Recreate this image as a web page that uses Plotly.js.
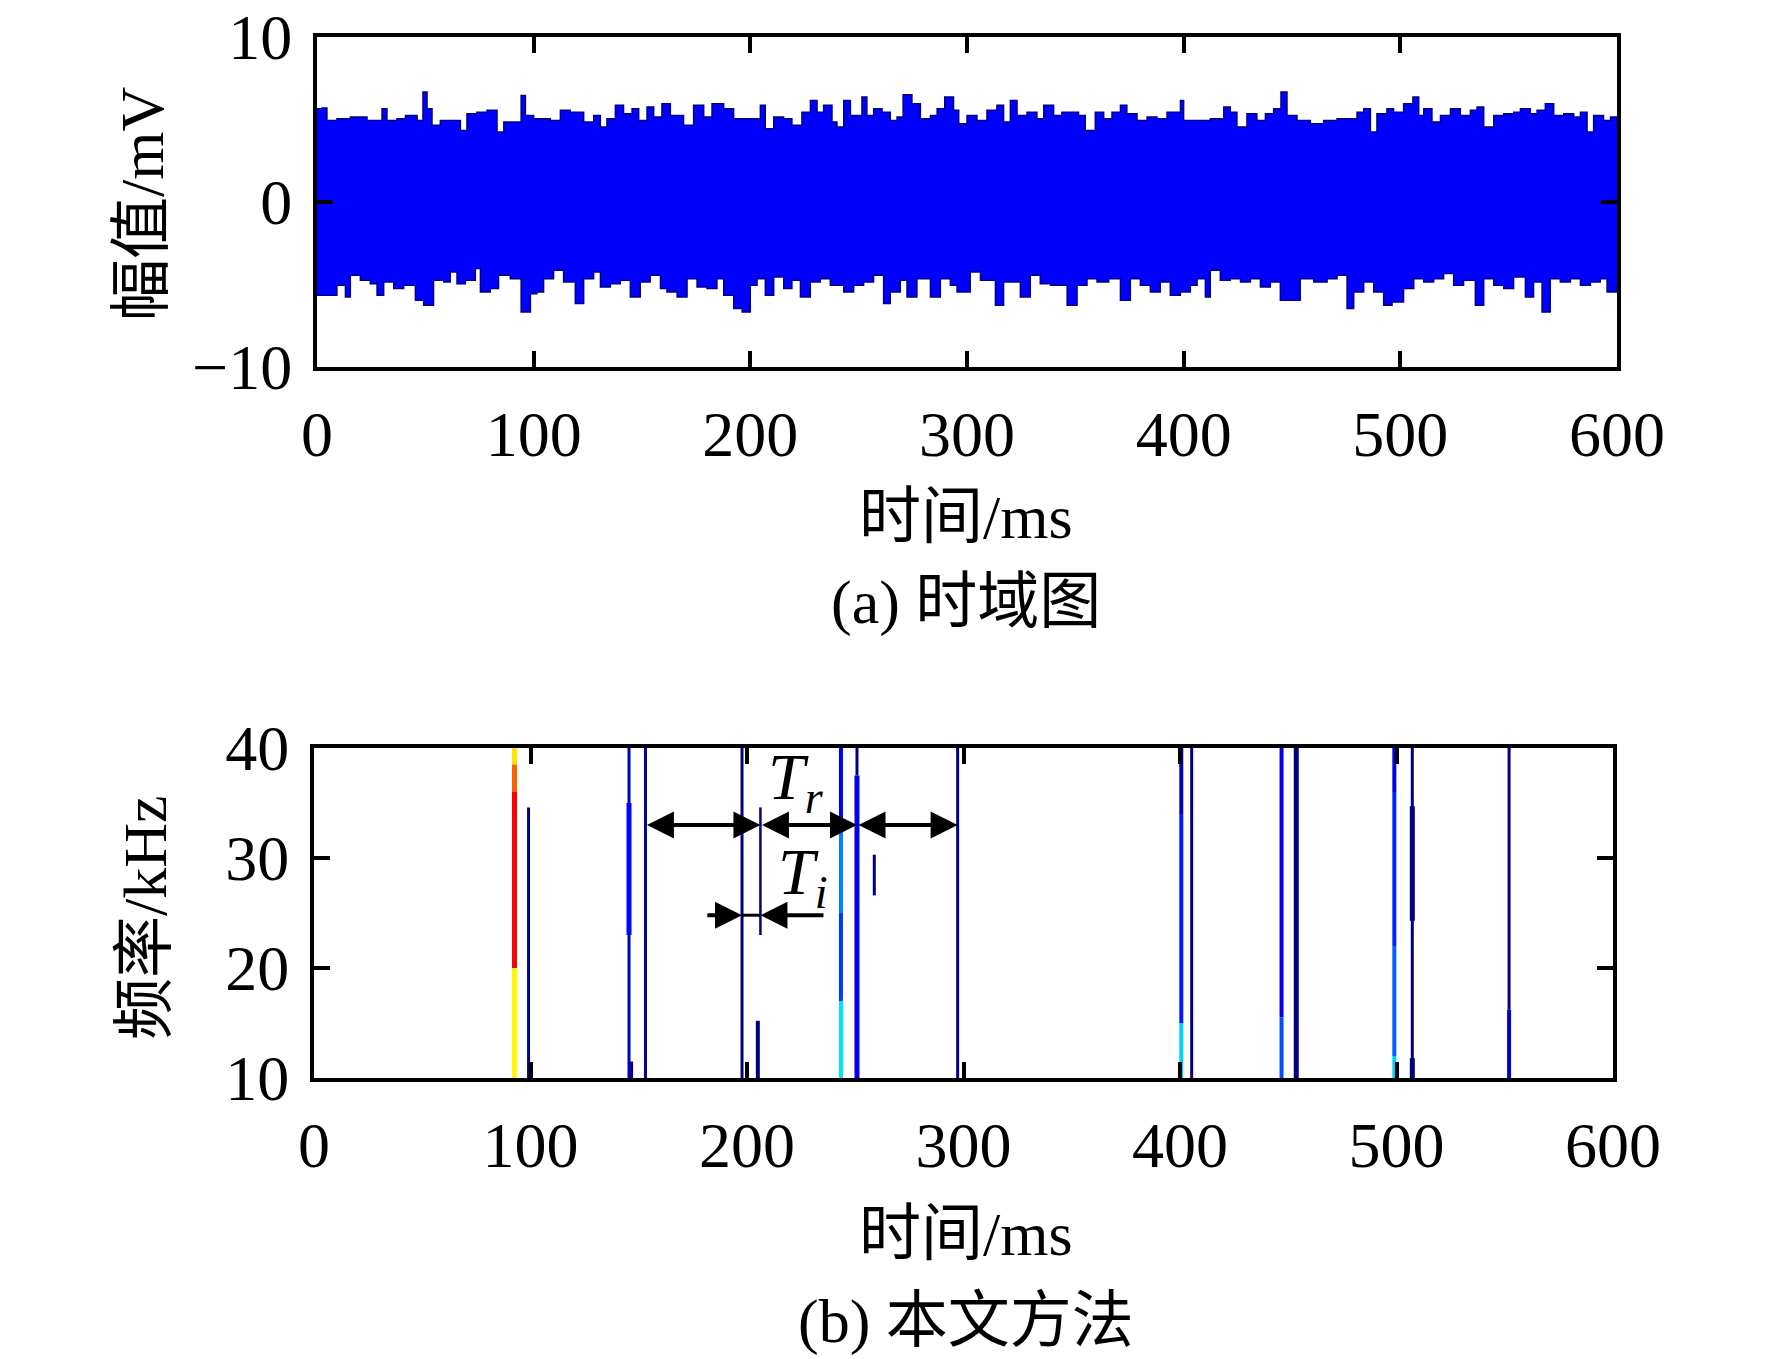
<!DOCTYPE html>
<html><head><meta charset="utf-8">
<script src="https://cdn.plot.ly/plotly-3.0.1.min.js"></script>
<style>html,body{margin:0;padding:0;background:#fff}#chart{width:1772px;height:1359px}</style>
</head><body><div id="chart"></div>
<script>
// ---- (a) time-domain signal: envelope (ms, mV)
const upperT = [0,2.3,4.6,9.2,15.4,23.1,30,32.3,36.9,40.8,
  46.2,48.9,50.8,53.1,56.9,61.5,66.2,69.2,73.8,78.5,
  83.1,86.2,94.2,96.2,100,107.7,112.3,116.9,123.1,127.7,
  130.8,133.8,137.7,141.5,145.4,148.5,152.3,155.4,159.2,163.1,
  169.2,173.8,178.5,182.3,187.7,192.3,196.9,
  200,204.6,206.9,210.8,215.4,219.2,223.8,227.7,230.8,233.8,
  237.7,240,243.1,246.2,251.5,253.8,256.9,260.8,264.6,267.7,
  270.5,274.6,278.5,283.1,286.2,289.7,293.8,296.2,300,304.6,
  309.2,313.8,316.9,320,323.1,327.7,332.3,335.4,340,343.8,
  347.7,351.5,354.6,359.2,363.1,366.9,370.8,373.8,378.5,383.1,
  387.7,392.3,398.5,
  400,406.2,412.3,418.5,421.5,424.6,429.2,433.8,437.7,441.5,
  444.9,447.7,452.3,458.5,464.6,470.8,476.9,480,483.1,486.2,
  489.2,493.8,496.9,501.5,505.8,508.5,510.8,514.6,518.5,523.1,
  527.7,532.3,535.4,538.5,543.1,547.7,552.3,555.4,560,563.1,
  566.9,570.8,575.4,580,583.1,586.2,589.2,593.8,597,600];
const upperV = [5.66,5.7,4.95,5.05,5.15,4.95,5.66,4.95,5.05,5.25,
  4.95,6.67,5.66,4.65,4.95,4.95,4.34,5.35,5.45,5.56,
  4.24,4.85,6.46,5.25,5.05,4.95,5.56,5.45,4.85,5.25,
  4.55,5.05,5.86,5.35,5.66,4.95,5.76,5.15,5.96,5.25,
  4.65,5.86,5.15,5.96,5.66,5.05,5.05,
  5.05,5.86,4.44,5.15,5.05,4.65,5.45,6.16,5.45,5.86,
  4.85,4.55,6.16,5.25,6.36,5.25,5.66,5.45,4.95,5.15,
  6.50,5.96,5.05,5.25,5.66,6.36,5.56,4.75,5.25,4.95,
  5.56,5.86,4.85,6.16,5.25,5.45,5.05,5.86,5.25,5.45,
  5.45,5.25,4.34,5.45,5.05,5.45,5.86,5.35,4.95,5.15,
  5.05,5.45,6.16,
  4.95,4.95,5.05,5.76,5.45,4.55,5.35,4.95,5.35,5.66,
  6.67,5.25,4.95,4.75,4.95,5.05,5.05,5.45,5.66,4.24,
  5.35,5.66,5.45,5.96,6.36,5.25,5.66,4.85,5.25,5.66,
  5.25,5.56,5.76,4.55,5.25,5.35,5.45,5.66,5.35,5.56,
  5.96,5.25,5.35,5.15,5.45,4.24,5.25,4.95,5.15,5.0];
const lowerT = [0,4.6,9.2,13.1,15.4,20,24.6,27.7,30.8,35.4,
  40,45.4,49.2,53.8,58.5,61.5,64.6,68.5,73.1,75.4,
  80,83.8,89.2,94.2,98.5,101.5,104.6,109.2,113.8,119.2,
  123.1,127.7,130.8,135.4,140,144.6,149.2,153.8,158.5,161.5,
  166.2,170.8,175.4,180,184.6,187.7,192.3,196.2,
  200,203.1,206.9,210.8,215.4,219.2,223.1,227.7,232.3,236.9,
  243.1,247.7,252.3,256.9,261.5,264.6,269.2,272.3,276.9,283.1,
  287.7,292.3,295.4,301.5,306.2,313.1,316.9,321.5,324.6,329.2,
  333.8,338.5,346.2,350.8,355.4,360,365.4,370.8,375.4,380,
  384.6,389.2,393.8,398.5,
  403.1,406.2,410,412.3,416.9,421.5,426.2,430.8,435.4,440,
  444.6,450,453.8,460,466.2,470.8,475.4,478.5,483.1,487.7,
  492.3,496.2,501.5,506.2,510.8,515.4,520,524.6,529.2,534.6,
  538.5,543.1,547.7,552.3,557.7,561.5,565.4,569.2,573.8,578.5,
  583.1,587.7,592.3,595.4,600];
const lowerV = [-5.66,-5.66,-5.05,-5.76,-4.44,-4.75,-4.95,-5.66,-4.85,-5.25,
  -5.05,-5.96,-6.26,-4.75,-4.85,-4.24,-4.95,-4.75,-4.04,-5.45,
  -5.25,-4.44,-4.65,-6.67,-5.56,-5.45,-4.65,-4.14,-4.85,-6.16,
  -4.65,-4.24,-5.15,-4.95,-4.75,-5.76,-4.85,-4.44,-5.25,-5.45,
  -5.76,-4.65,-5.15,-5.25,-4.65,-5.66,-6.46,-6.67,
  -5.05,-4.65,-5.66,-4.55,-5.25,-4.75,-5.76,-4.85,-4.65,-5.05,
  -5.45,-5.05,-4.85,-4.44,-6.16,-5.45,-4.75,-5.76,-4.65,-5.76,
  -4.65,-5.05,-5.45,-4.24,-4.75,-6.26,-4.85,-4.85,-5.76,-4.44,
  -4.95,-5.05,-6.26,-5.05,-4.65,-4.85,-4.65,-5.96,-4.65,-5.05,
  -5.45,-4.85,-5.66,-5.45,
  -5.05,-4.65,-5.76,-4.14,-4.75,-4.65,-4.85,-4.65,-5.15,-4.85,
  -5.96,-5.96,-4.65,-4.85,-4.65,-4.44,-6.46,-5.45,-4.85,-5.45,
  -6.26,-6.06,-5.25,-4.65,-4.85,-4.65,-4.34,-5.05,-4.75,-6.26,
  -4.65,-5.05,-5.25,-4.55,-5.76,-4.85,-6.67,-4.65,-4.85,-4.65,
  -5.05,-4.85,-4.65,-5.45,-5.0];

// ---- (b) time-frequency ridges: time (ms), band low/high (kHz), level (0..1, jet)
const segT     = [92.6,92.6,92.6,92.6, 99.1, 145.5,145.5,146.7, 153.1, 197.7, 206.2,205.0,
                  243.4,243.4,243.4,243.4, 250.8,250.8, 258.8, 297.3,
                  400.6,400.6,400.6, 405.4, 446.9,446.9, 453.7,
                  499,499,499,499, 507.3,507.3,507.3, 552,552];
const segLo    = [38.5,36,20,10, 10, 10,23,10, 10, 10, 23,10,
                  33,25,17,10, 37.5,10, 26.6, 10,
                  34,15,10, 10, 15.5,10, 10,
                  36,22,12,10, 10,24.3,10, 16.2,10];
const segHi    = [40,38.5,36,20, 34.6, 40,35,11.5, 40, 40, 34.6,15.2,
                  40,33,25,17, 40,37.5, 30.3, 40,
                  40,34,15, 40, 40,15.5, 40,
                  40,36,22,12, 40,34.7,11.8, 40,16.2];
const segLevel = [0.65,0.78,0.88,0.63, 0.0, 0.06,0.13,0.0, 0.02, 0.0, 0.0,0.0,
                  0.12,0.25,0.18,0.35, 0.0,0.10, 0.0, 0.0,
                  0.05,0.15,0.33, 0.0, 0.10,0.20, 0.0,
                  0.10,0.16,0.22,0.33, 0.0,0.0,0.0, 0.0,0.08];
// line thickness per ridge (style)
const segWidth = [5,5,5,5, 3, 3,5,3, 3, 3, 2.5,4,
                  4,4,4,4, 3,5, 3, 3,
                  4,4,4, 3, 4,4, 5,
                  4,4,4,4, 3,5,5, 3,4];

// annotation values
const trFrom = [153.1, 206.2, 250.8];
const trTo   = [206.2, 250.8, 297.3];
const trLevel = 33;
const tiEdges = [197.7, 206.2];
const tiTails = [181, 236];
const tiLevel = 24.8;

const timeTicks = [0,100,200,300,400,500,600];
const ampTicks = [-10,0,10];
const freqTicks = [10,20,30,40];

function jet(v){
  let r,g,b;
  if(v<0.125){r=0;g=0;b=0.5+4*v;}
  else if(v<0.375){r=0;g=(v-0.125)*4;b=1;}
  else if(v<0.625){r=(v-0.375)*4;g=1;b=1-(v-0.375)*4;}
  else if(v<0.875){r=1;g=1-(v-0.625)*4;b=0;}
  else {r=1-(v-0.875)*4;g=0;b=0;}
  const c=x=>Math.round(Math.max(0,Math.min(1,x))*255);
  return 'rgb('+c(r)+','+c(g)+','+c(b)+')';
}

const SERIF = '"Liberation Serif","Times New Roman",serif';
const MIX = '"Liberation Serif","Noto Sans CJK SC",serif';

const traces = [
  {x:lowerT, y:lowerV, xaxis:'x', yaxis:'y', mode:'lines', line:{color:'#000080', width:1.4, shape:'hv'}, hoverinfo:'skip'},
  {x:upperT, y:upperV, xaxis:'x', yaxis:'y', mode:'lines', line:{color:'#000080', width:1.4, shape:'hv'},
   fill:'tonexty', fillcolor:'#0000ff', hoverinfo:'skip'}
];
for(let i=0;i<segT.length;i++){
  traces.push({x:[segT[i],segT[i]], y:[segLo[i],segHi[i]], xaxis:'x2', yaxis:'y2', mode:'lines',
    line:{color:jet(segLevel[i]), width:segWidth[i]}, hoverinfo:'skip'});
}

function axisBase(extra){
  return Object.assign({
    showline:true, linewidth:4, linecolor:'#000', mirror:'ticks',
    ticks:'inside', ticklen:16, tickwidth:4, tickcolor:'#000',
    showgrid:false, zeroline:false,
    tickfont:{family:SERIF, size:64, color:'#000'}
  }, extra);
}

const annotations = [];
const arrowStyle = {showarrow:true, arrowhead:2, arrowsize:1.35, arrowwidth:4, arrowcolor:'#000', text:'',
  xref:'x2', yref:'y2', axref:'x2', ayref:'y2', standoff:0, startstandoff:0};
for(let i=0;i<trFrom.length;i++){
  annotations.push(Object.assign({}, arrowStyle, {x:trTo[i], y:trLevel, ax:trFrom[i], ay:trLevel,
    arrowside:'end+start', startarrowhead:2, startarrowsize:1.35}));
}
annotations.push(Object.assign({}, arrowStyle, {x:tiEdges[0], y:tiLevel, ax:tiTails[0], ay:tiLevel}));
annotations.push(Object.assign({}, arrowStyle, {x:tiEdges[1], y:tiLevel, ax:tiTails[1], ay:tiLevel}));
annotations.push({xref:'x2', yref:'y2', x:209.0, y:37.0, xanchor:'left', yanchor:'middle', showarrow:false,
  text:'<i>T</i><sub><i>r</i></sub>', font:{family:SERIF, size:66, color:'#000'}});
annotations.push({xref:'x2', yref:'y2', x:213.5, y:28.3, xanchor:'left', yanchor:'middle', showarrow:false,
  text:'<i>T</i><sub><i>i</i></sub>', font:{family:SERIF, size:66, color:'#000'}});

const titleFont = {family:MIX, size:62, color:'#000'};
annotations.push({xref:'paper', yref:'paper', x:142/1772, y:1-204/1359, text:'幅值/mV', textangle:-90,
  showarrow:false, font:titleFont, xanchor:'center', yanchor:'middle'});
annotations.push({xref:'paper', yref:'paper', x:145/1772, y:1-918/1359, text:'频率/kHz', textangle:-90,
  showarrow:false, font:titleFont, xanchor:'center', yanchor:'middle'});
annotations.push({xref:'paper', yref:'paper', x:966/1772, y:1-517/1359, text:'时间/ms',
  showarrow:false, font:titleFont, xanchor:'center', yanchor:'middle'});
annotations.push({xref:'paper', yref:'paper', x:966/1772, y:1-1234/1359, text:'时间/ms',
  showarrow:false, font:titleFont, xanchor:'center', yanchor:'middle'});
annotations.push({xref:'paper', yref:'paper', x:966/1772, y:1-602/1359, text:'(a) 时域图',
  showarrow:false, font:titleFont, xanchor:'center', yanchor:'middle'});
annotations.push({xref:'paper', yref:'paper', x:966/1772, y:1-1321/1359, text:'(b) 本文方法',
  showarrow:false, font:titleFont, xanchor:'center', yanchor:'middle'});

const layout = {
  width:1772, height:1359, margin:{l:0,r:0,t:0,b:0},
  paper_bgcolor:'#fff', plot_bgcolor:'#fff', showlegend:false,
  xaxis: axisBase({domain:[317/1772,1617/1772], range:[0,600], anchor:'y', tickvals:timeTicks, ticklabelstandoff:8}),
  yaxis: axisBase({domain:[1-367/1359,1-37/1359], range:[-10,10], anchor:'x', tickvals:ampTicks, ticklabelstandoff:8}),
  xaxis2: axisBase({domain:[314/1772,1613/1772], range:[0,600], anchor:'y2', tickvals:timeTicks, ticklabelstandoff:8}),
  yaxis2: axisBase({domain:[1-1078/1359,1-748/1359], range:[10,40], anchor:'x2', tickvals:freqTicks, ticklabelstandoff:8}),
  shapes:[{type:'line', xref:'x2', yref:'y2', x0:tiEdges[0], x1:tiEdges[1], y0:tiLevel, y1:tiLevel,
    line:{color:'#000', width:3}}],
  annotations: annotations
};

Plotly.newPlot('chart', traces, layout, {staticPlot:true, displayModeBar:false});
</script>
</body></html>
